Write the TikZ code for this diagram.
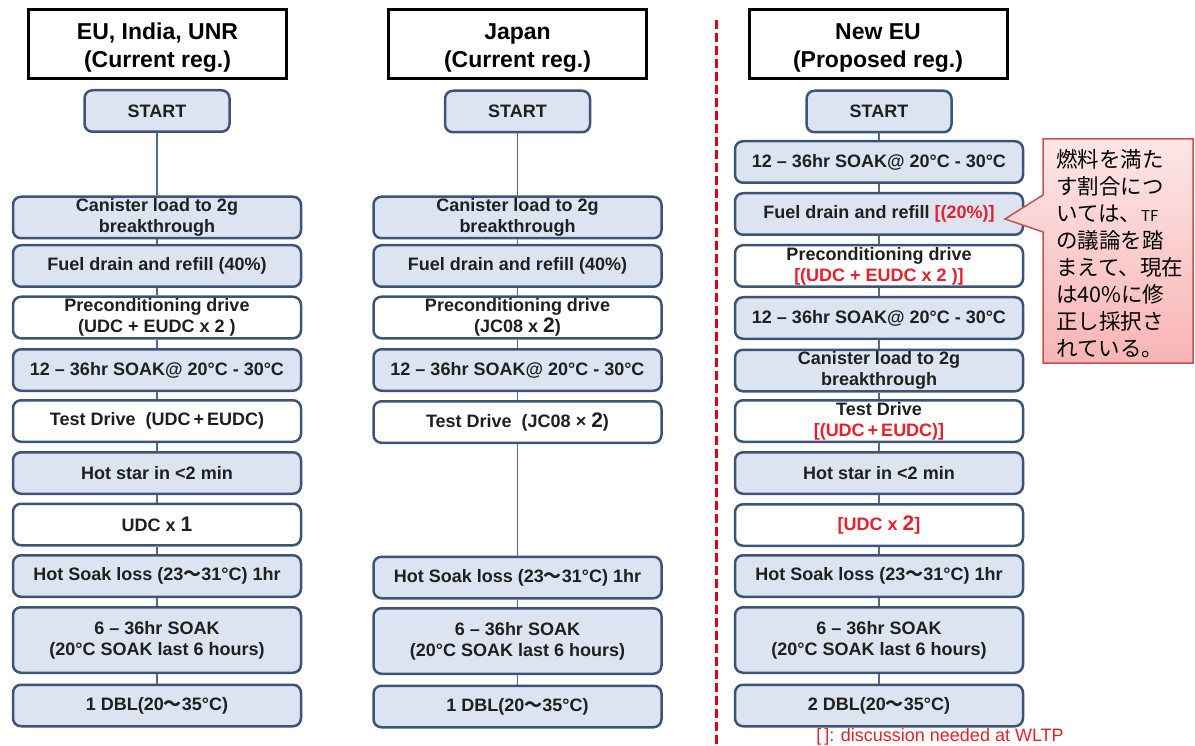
\documentclass[tikz,border=0pt]{standalone}
\usepackage{fontspec}
\setmainfont{Liberation Sans}
\newfontfamily\cjk{Noto Sans CJK JP}
\definecolor{boxline}{HTML}{3E5476}
\definecolor{boxfill}{HTML}{DCE4F2}
\definecolor{connc}{HTML}{51698C}
\definecolor{redtxt}{HTML}{E8202A}
\definecolor{dashred}{HTML}{E00010}
\definecolor{callline}{HTML}{C8504D}
\definecolor{calltop}{HTML}{FDE6E6}
\definecolor{callbot}{HTML}{F8B4B4}
\tikzset{
  stepbox/.style={draw=boxline, line width=2.5pt, rounded corners=8pt, fill=boxfill,
    minimum width=288pt, minimum height=41.5pt, inner sep=0pt, align=center,
    text=black!88, font=\bfseries\fontsize{18}{21}\selectfont},
  whitebox/.style={stepbox, fill=white},
  tallbox/.style={stepbox, minimum height=65.5pt},
  startbox/.style={stepbox, minimum width=145pt},
  headbox/.style={draw=black, line width=3pt, fill=white, minimum width=258pt,
    minimum height=69pt, inner sep=0pt, align=center, font=\bfseries\fontsize{23}{28}\selectfont},
  connline/.style={draw=connc, line width=1.5pt}
}
\newcommand{\bignum}[1]{{\fontsize{21}{21}\selectfont #1}}
\newcommand{\tl}{{\cjk ～}}
\newcommand{\headtxt}[2]{\raisebox{-10.5pt}[0pt][0pt]{\begin{tabular}{@{}c@{}}#1\\#2\end{tabular}}}
\begin{document}
\begin{tikzpicture}[x=1pt,y=-1pt]
\useasboundingbox (0,0) rectangle (1195,746);

% ---------- column 1 ----------
\node[headbox] (h1) at (157.5,44) {\headtxt{EU, India, UNR}{(Current reg.)}};
\node[startbox] (a0) at (157,111) {START};
\node[stepbox] (a1) at (157,217.5) {Canister load to 2g\\breakthrough};
\node[stepbox] (a2) at (157,266) {Fuel drain and refill (40\%)};
\node[whitebox] (a3) at (157,317.5) {Preconditioning drive\\(UDC + EUDC x 2 )};
\node[stepbox] (a4) at (157,370) {12 – 36hr SOAK@ 20°C - 30°C};
\node[whitebox] (a5) at (157,421) {Test Drive\ \ (UDC\,+\,EUDC)};
\node[stepbox] (a6) at (157,473) {Hot star in <2 min};
\node[whitebox] (a7) at (157,524.5) {UDC x \bignum{1}};
\node[stepbox] (a8) at (157,576) {Hot Soak loss (23\tl31°C) 1hr};
\node[tallbox] (a9) at (157,640) {6 – 36hr SOAK\\(20°C SOAK last 6 hours)};
\node[stepbox] (a10) at (157,705.5) {1 DBL(20\tl35°C)};

% ---------- column 2 ----------
\node[headbox] (h2) at (517.5,44) {\headtxt{Japan}{(Current reg.)}};
\node[startbox] (b0) at (517.5,111.5) {START};
\node[stepbox] (b1) at (517.5,217.5) {Canister load to 2g\\breakthrough};
\node[stepbox] (b2) at (517.5,266) {Fuel drain and refill (40\%)};
\node[whitebox] (b3) at (517.5,317.5) {Preconditioning drive\\(JC08 x \bignum{2})};
\node[stepbox] (b4) at (517.5,370) {12 – 36hr SOAK@ 20°C - 30°C};
\node[whitebox] (b5) at (517.5,422) {Test Drive\ \ (JC08 × \bignum{2})};
\node[stepbox] (b8) at (517.5,577.5) {Hot Soak loss (23\tl31°C) 1hr};
\node[tallbox] (b9) at (517.5,641) {6 – 36hr SOAK\\(20°C SOAK last 6 hours)};
\node[stepbox] (b10) at (517.5,706.5) {1 DBL(20\tl35°C)};

% ---------- column 3 ----------
\node[headbox] (h3) at (878,44) {\headtxt{New EU}{(Proposed reg.)}};
\node[startbox] (c0) at (879,111.5) {START};
\node[stepbox] (c1) at (879,162) {12 – 36hr SOAK@ 20°C - 30°C};
\node[stepbox] (c2) at (879,214) {Fuel drain and refill \textcolor{redtxt}{[(20\%)]}};
\node[whitebox] (c3) at (879,266) {Preconditioning drive\\\textcolor{redtxt}{[(UDC + EUDC x 2 )]}};
\node[stepbox] (c4) at (879,318) {12 – 36hr SOAK@ 20°C - 30°C};
\node[stepbox] (c5) at (879,370.5) {Canister load to 2g\\breakthrough};
\node[whitebox] (c6) at (879,421) {Test Drive\\\textcolor{redtxt}{[(UDC\,+\,EUDC)]}};
\node[stepbox] (c7) at (879,473) {Hot star in <2 min};
\node[whitebox] (c8) at (879,525) {\textcolor{redtxt}{[UDC x \bignum{2}]}};
\node[stepbox] (c9) at (879,576) {Hot Soak loss (23\tl31°C) 1hr};
\node[tallbox] (c10) at (879,640) {6 – 36hr SOAK\\(20°C SOAK last 6 hours)};
\node[stepbox] (c11) at (879,705.5) {2 DBL(20\tl35°C)};

% ---------- connectors ----------
\foreach \p/\q in {a0/a1,a1/a2,a2/a3,a3/a4,a4/a5,a5/a6,a6/a7,a7/a8,a8/a9,a9/a10,
                   b0/b1,b1/b2,b2/b3,b3/b4,b4/b5,b5/b8,b8/b9,b9/b10,
                   c0/c1,c1/c2,c2/c3,c3/c4,c4/c5,c5/c6,c6/c7,c7/c8,c8/c9,c9/c10,c10/c11}
  \draw[connline] (\p) -- (\q);

% ---------- divider ----------
\draw[dashred, line width=3pt, dash pattern=on 9pt off 4pt] (716,20) -- (716,746);

% ---------- callout ----------
\path[draw=callline, line width=1.5pt, top color=calltop, bottom color=callbot]
  (1043,139) -- (1193,139) -- (1193,363) -- (1043,363) -- (1043,232)
  -- (1005,219) -- (1043,195) -- cycle;
\node[anchor=north west, align=left, inner sep=0pt, text=black,
      font=\cjk\fontsize{21.5}{27}\selectfont] (memo) at (1056,149)
  {燃料を満た\\す割合につ\\いては、{\fontsize{15}{15}\selectfont TF}\\の議論を踏\\まえて、現在\\は40\%に修\\正し採択さ\\れている。};

% ---------- note ----------
\node[text=redtxt, font=\fontsize{18}{18}\selectfont, inner sep=0pt] (wltp) at (940,737)
  {[\,]: discussion needed at WLTP};
\end{tikzpicture}
\end{document}
